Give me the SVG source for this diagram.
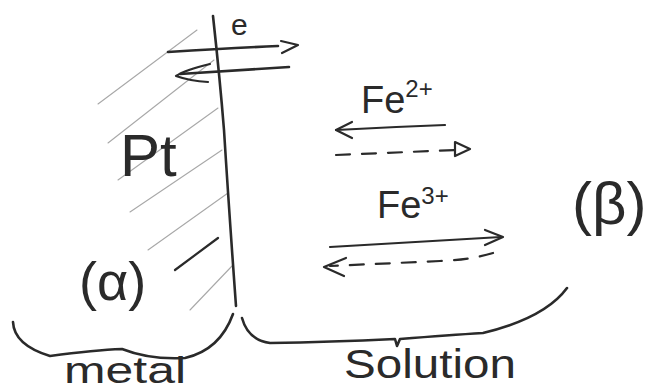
<svg xmlns="http://www.w3.org/2000/svg" width="658" height="392" viewBox="0 0 658 392">
<style>
.ink{fill:none;stroke:#2a2a2a;stroke-width:2.6;stroke-linecap:round;stroke-linejoin:round}
.thin{fill:none;stroke:#2a2a2a;stroke-width:2.2;stroke-linecap:round;stroke-linejoin:round}
.dash{fill:none;stroke:#2a2a2a;stroke-width:2.2;stroke-linecap:round;stroke-dasharray:14 12}
.hatch{fill:none;stroke:#a8a8a8;stroke-width:1.1;stroke-linecap:round}
.txt{font-family:"Liberation Sans",Arial,sans-serif;fill:#2a2a2a}
</style>
<rect width="658" height="392" fill="#ffffff"/>
<g id="hatching">
<path class="hatch" d="M98,104 L197,30"/>
<path class="hatch" d="M108,143 L214,60"/>
<path class="hatch" d="M118,180 L218,108"/>
<path class="hatch" d="M130,212 L222,150"/>
<path class="hatch" d="M148,250 L228,193"/>
<path class="hatch" d="M190,310 L232,266"/>
<path class="thin" d="M175,270 Q195,255 218,238"/>
</g>
<g id="interface">
<path class="ink" d="M213,16 Q220,80 224,130 Q229,210 236,306"/>
</g>
<g id="metal">
<text class="txt" x="120" y="176" font-size="60">Pt</text>
<text class="txt" x="79" y="300" font-size="54">(α)</text>
</g>
<g id="solution-label">
<text class="txt" x="572" y="224" font-size="60">(β)</text>
</g>
<g id="electron">
<text class="txt" x="231" y="35" font-size="30">e</text>
</g>
<g id="fe2">
<text class="txt" x="361" y="113" font-size="38">Fe<tspan font-size="24" dy="-16">2+</tspan></text>
</g>
<g id="fe3">
<text class="txt" x="377" y="218" font-size="38">Fe<tspan font-size="24" dy="-14">3+</tspan></text>
</g>
<g id="connectors">
<path class="ink" d="M168,52 Q230,48 278,46"/>
<path class="thin" d="M281,41 L298,45 L282,53"/>
<path class="ink" d="M289,67 Q240,70 180,74"/>
<path class="thin" d="M210,64 Q185,70 176,76 Q190,81 208,82"/>
<path class="thin" d="M445,125 Q390,127 336,130"/>
<path class="thin" d="M352,122 L336,130 L352,138"/>
<path class="dash" d="M336,155 L455,150"/>
<path class="thin" d="M455,142 L470,149 L455,156 Z"/>
<path class="thin" d="M330,247 Q420,242 501,237"/>
<path class="thin" d="M485,230 L503,237 L485,245"/>
<path class="dash" d="M493,253 Q470,260 440,261 L330,266"/>
<path class="thin" d="M346,258 L324,267 L344,276"/>
<path class="ink" d="M13,322 Q14,345 50,356 Q95,350 122,349 Q150,360 185,358 Q220,350 233,314"/>
<path class="ink" d="M242,318 Q248,340 270,343 Q330,342 395,339 L397,346 L400,339 Q450,335 483,333 Q545,318 567,288"/>
</g>
<g id="braces-labels">
<text class="txt" x="64" y="383" font-size="36" textLength="122" lengthAdjust="spacingAndGlyphs">metal</text>
<text class="txt" x="344" y="378" font-size="40" textLength="172" lengthAdjust="spacingAndGlyphs">Solution</text>
</g>
</svg>
